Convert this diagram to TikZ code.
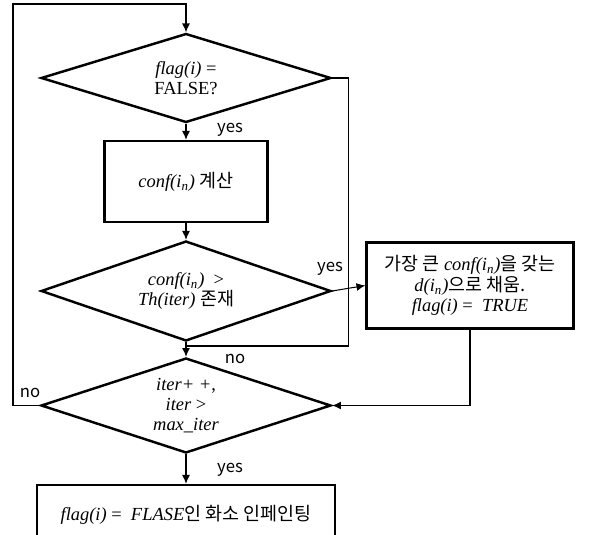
\documentclass[tikz,border=0pt]{standalone}
\usepackage{fontspec}
\setmainfont{Liberation Serif}
\newfontfamily\krfont{Noto Sans CJK KR}
\newcommand{\kr}[1]{{\krfont #1}}
\usetikzlibrary{shapes.geometric,arrows.meta}

\begin{document}
\begin{tikzpicture}[x=0.02cm, y=-0.02cm,
  every node/.style={font=\fontsize{10.5}{11.5}\selectfont},
  decision/.style={diamond, aspect=3, draw, line width=1.4pt, inner sep=0pt, minimum width=5.8cm, align=center},
  process/.style={rectangle, draw, line width=1.4pt, inner sep=0pt, align=center},
  arr/.style={-{Latex[length=5pt,width=4.5pt]}, line width=0.6pt},
  lbl/.style={font=\krfont\fontsize{9.5}{11}\selectfont}]
  \useasboundingbox (0,0) rectangle (591,534);

  \node[decision, minimum height=1.78cm] (flag) at (186,78) {\textit{flag(i)} =\\FALSE?};
  \node[process, minimum width=3.26cm, minimum height=1.62cm] (calc) at (186,181.5) {\textit{conf(i\textsubscript{n})} \kr{계산}};
  \node[decision, minimum height=2cm] (th) at (186,291) {\textit{conf(i\textsubscript{n})} \ >\\\textit{Th(iter)} \kr{존재}};
  \node[process, minimum width=4.14cm, minimum height=1.72cm] (fill) at (470,285.5)
    {\kr{가장 큰} \textit{conf(i\textsubscript{n})}\kr{을 갖는}\\\textit{d(i\textsubscript{n})}\kr{으로 채움.}\\\textit{flag(i)} = \ \textit{TRUE}};
  \node[decision, minimum height=1.9cm] (iter) at (186,405.5) {\textit{iter+ +},\\\textit{iter} >\\\textit{max\_iter}};
  \node[process, minimum width=5.96cm, minimum height=1.2cm] (paint) at (186,515) {\textit{flag(i)} = \ \textit{FLASE}\kr{인 화소 인페인팅}};

  \coordinate (loop) at (13,4);
  \coordinate (join) at (186,346);

  \draw[arr] (iter.west) -| (loop) -| (flag.north);
  \draw[arr] (flag.south) -- (calc.north);
  \draw[arr] (calc.south) -- (th.north);
  \draw[line width=0.6pt] (flag.east) -- ++(16,0) |- (join);
  \draw[arr] (th.south) -- (iter.north);
  \draw[arr] (th.east) -- (fill.west);
  \draw[arr] (fill.south) |- (iter.east);
  \draw[arr] (iter.south) -- (paint.north);

  \node[lbl] at (230,130) {yes};
  \node[lbl] at (330,269) {yes};
  \node[lbl] at (235,359) {no};
  \node[lbl] at (30,393) {no};
  \node[lbl] at (230,470) {yes};
\end{tikzpicture}
\end{document}
